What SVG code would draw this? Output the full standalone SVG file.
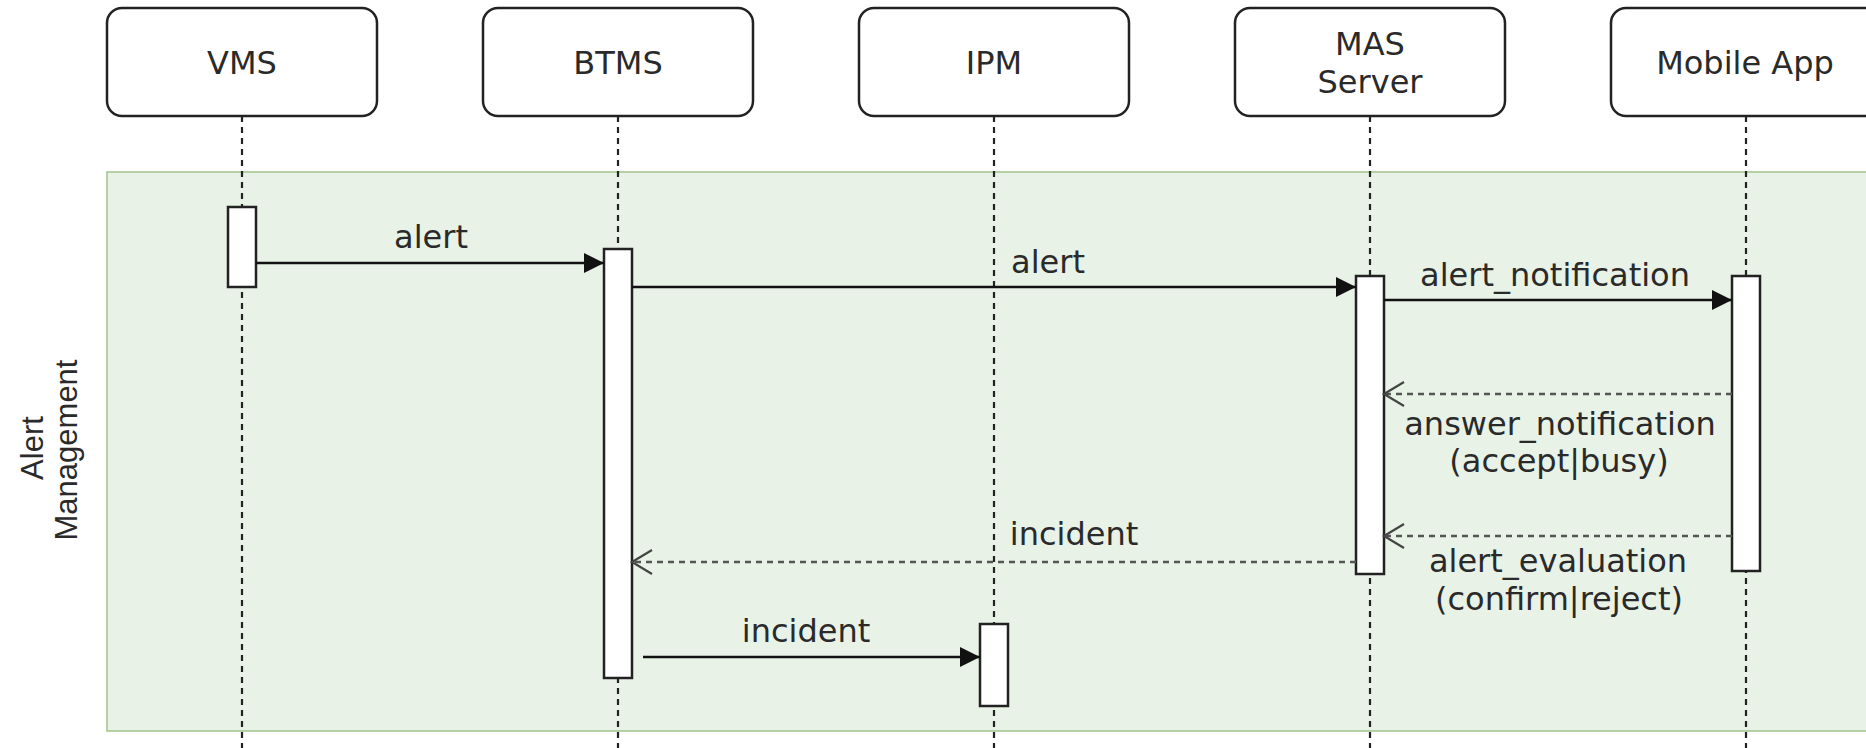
<svg xmlns="http://www.w3.org/2000/svg" width="1866" height="748" viewBox="0 0 1866 748">
<style>
.box{fill:#fff;stroke:#222;stroke-width:2.5}
.lbl{font-family:"DejaVu Sans",Verdana,sans-serif;font-size:32px;fill:#2a2a2a;text-anchor:middle}
.life{stroke:#222;stroke-width:2.2;stroke-dasharray:6 5;fill:none}
.act{fill:#fff;stroke:#222;stroke-width:2.5}
.msg{stroke:#111;stroke-width:2.5;fill:none}
.ret{stroke:#555;stroke-width:2.5;stroke-dasharray:6 5;fill:none}
.frame{fill:#e8f2e7;stroke:#a3c28a;stroke-width:1.5}
.side{font-family:"Liberation Sans",Arial,sans-serif;font-size:31px;fill:#2a2a2a;text-anchor:middle}
</style>
<defs>
<marker id="solid" markerUnits="userSpaceOnUse" markerWidth="22" markerHeight="20" refX="20" refY="10" orient="auto">
<path d="M0,0 L20,10 L0,20 z" fill="#111"/>
</marker>
<marker id="open" markerUnits="userSpaceOnUse" markerWidth="24" markerHeight="28" refX="21" refY="13" orient="auto">
<path d="M1,1 L21,13 L1,25" fill="none" stroke="#444" stroke-width="2.2"/>
</marker>
</defs>
<g id="frame">
<rect class="frame" x="107" y="172" width="1800" height="559"/>
<text class="side" transform="rotate(-90)"><tspan x="-448" y="43">Alert</tspan><tspan x="-450" y="77">Management</tspan></text>
</g>
<g id="lifelines">
<line class="life" x1="242" y1="116" x2="242" y2="748"/>
<line class="life" x1="618" y1="116" x2="618" y2="748"/>
<line class="life" x1="994" y1="116" x2="994" y2="748"/>
<line class="life" x1="1370" y1="116" x2="1370" y2="748"/>
<line class="life" x1="1746" y1="116" x2="1746" y2="748"/>
</g>
<g id="VMS">
<rect class="box" x="107" y="8" width="270" height="108" rx="15"/>
<text class="lbl" x="242" y="74">VMS</text>
<rect class="act" x="228" y="207" width="28" height="80"/>
</g>
<g id="BTMS">
<rect class="box" x="483" y="8" width="270" height="108" rx="15"/>
<text class="lbl" x="618" y="74">BTMS</text>
<rect class="act" x="604" y="249" width="28" height="429"/>
</g>
<g id="IPM">
<rect class="box" x="859" y="8" width="270" height="108" rx="15"/>
<text class="lbl" x="994" y="74">IPM</text>
<rect class="act" x="980" y="624" width="28" height="82"/>
</g>
<g id="MAS">
<rect class="box" x="1235" y="8" width="270" height="108" rx="15"/>
<text class="lbl" x="1370" y="55">MAS</text>
<text class="lbl" x="1370" y="93">Server</text>
<rect class="act" x="1356" y="276" width="28" height="298"/>
</g>
<g id="MobileApp">
<rect class="box" x="1611" y="8" width="270" height="108" rx="15"/>
<text class="lbl" x="1745" y="74">Mobile App</text>
<rect class="act" x="1732" y="276" width="28" height="295"/>
</g>
<g id="connectors">
<line class="msg" x1="256" y1="263" x2="604" y2="263" marker-end="url(#solid)"/>
<text class="lbl" x="431" y="248">alert</text>
<line class="msg" x1="632" y1="287" x2="1356" y2="287" marker-end="url(#solid)"/>
<text class="lbl" x="1048" y="273">alert</text>
<line class="msg" x1="1384" y1="300" x2="1732" y2="300" marker-end="url(#solid)"/>
<text class="lbl" x="1555" y="286">alert_notification</text>
<line class="ret" x1="1732" y1="394" x2="1384" y2="394" marker-end="url(#open)"/>
<text class="lbl" x="1560" y="435">answer_notification</text>
<text class="lbl" x="1559" y="472">(accept|busy)</text>
<line class="ret" x1="1732" y1="536" x2="1384" y2="536" marker-end="url(#open)"/>
<text class="lbl" x="1558" y="572">alert_evaluation</text>
<text class="lbl" x="1559" y="610">(confirm|reject)</text>
<line class="ret" x1="1356" y1="562" x2="632" y2="562" marker-end="url(#open)"/>
<text class="lbl" x="1074" y="545">incident</text>
<line class="msg" x1="643" y1="657" x2="980" y2="657" marker-end="url(#solid)"/>
<text class="lbl" x="806" y="642">incident</text>
</g>
</svg>
